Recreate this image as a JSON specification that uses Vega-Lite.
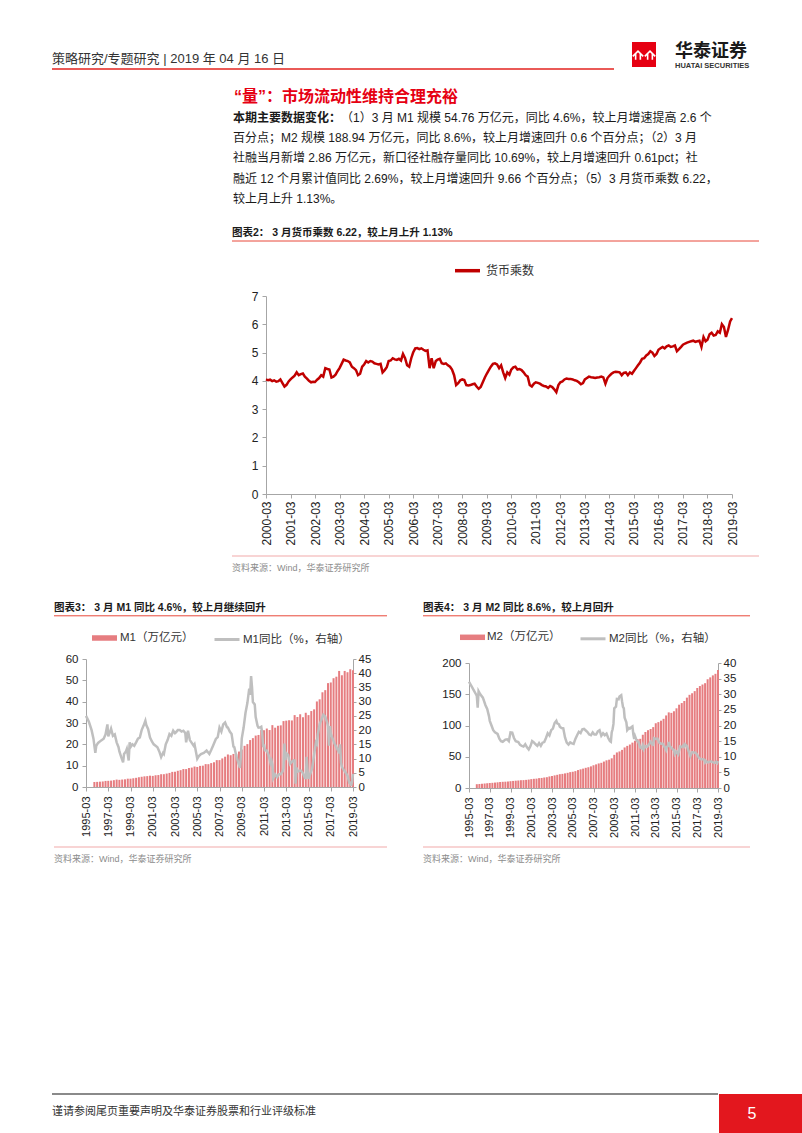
{
"$schema":"https://vega.github.io/schema/vega-lite/v6.json",
"background":"white","padding":0,"spacing":0,
"resolve":{"scale":{"fill":"independent","stroke":"independent"}},
"config":{"view":{"stroke":null},"font":"Liberation Sans, Noto Sans CJK SC","axis":{"grid":false}},
"vconcat":[
{"width":802,"height":40,"data":{"values":[{}]},"mark":"rule","encoding":{}},
{"hconcat":[
 {"width":50,"height":1,"data":{"values":[{}]},"mark":"rule","encoding":{}},
 {"vconcat":[
  {"width":562,"height":7,"data":{"values":[{}]},"mark":"rule","encoding":{}},
  {"width":562,"height":20,"data":{"values":[{"t":"策略研究/专题研究 | 2019 年 04 月 16 日"}]},
   "layer":[
    {"mark":{"type":"text","align":"left","baseline":"middle","fontSize":13,"color":"#333333"},"encoding":{"text":{"field":"t"},"x":{"datum":0,"type":"quantitative","scale":{"domain":[0,1]},"axis":null}}},
    {"mark":{"type":"rule","color":"#e3231f","strokeWidth":1.6},"encoding":{"y":{"datum":0,"type":"quantitative","scale":{"domain":[0,1]},"axis":null}}}]}
 ],"spacing":0},
 {"width":13,"height":1,"data":{"values":[{}]},"mark":"rule","encoding":{}},
 {"width":24,"height":25,"view":{"fill":"#e60012","stroke":null},"data":{"values":[{"k":"a"},{"k":"b"}]},
  "mark":{"type":"point","shape":"M-1,0.35L0,-0.65L1,0.35M-0.45,1L-0.45,-0.1M0.45,1L0.45,-0.1","filled":false,"stroke":"white","strokeWidth":1.6,"size":110,"opacity":1},
  "encoding":{"x":{"field":"k","type":"nominal","scale":{"type":"point","padding":0.5},"axis":null}}},
 {"width":15,"height":1,"data":{"values":[{}]},"mark":"rule","encoding":{}},
 {"width":90,"height":28,"data":{"values":[{"i":0,"t":"华泰证券"},{"i":1,"t":"HUATAI SECURITIES"}]},
  "encoding":{"y":{"field":"i","type":"ordinal","scale":{"type":"point","padding":0},"axis":null},"x":{"datum":0,"type":"quantitative","scale":{"domain":[0,1]},"axis":null},"text":{"field":"t"}},
  "layer":[
   {"transform":[{"filter":"datum.i==0"}],"mark":{"type":"text","align":"left","baseline":"top","fontSize":18,"fontWeight":"bold","color":"#1a1a1a","font":"Noto Sans CJK SC","dy":1}},
   {"transform":[{"filter":"datum.i==1"}],"mark":{"type":"text","align":"left","baseline":"bottom","fontSize":7.5,"fontWeight":"bold","color":"#333333","font":"Liberation Sans"}}]}
],"spacing":0},
{"hconcat":[
 {"width":230,"height":1,"data":{"values":[{}]},"mark":"rule","encoding":{}},
 {"vconcat":[
  {"width":527,"height":15.8,"data":{"values":[{}]},"mark":"rule","encoding":{}},
  {"width":527,"height":122.4,
   "data":{"values":[
    {"i":0,"k":"h","t":"“量”：市场流动性维持合理充裕"},
    {"i":1,"k":"b","t":"本期主要数据变化："},
    {"i":1,"k":"n1","t":"（1）3 月 M1 规模 54.76 万亿元，同比 4.6%，较上月增速提高 2.6 个"},
    {"i":2,"k":"n","t":"百分点；M2 规模 188.94 万亿元，同比 8.6%，较上月增速回升 0.6 个百分点；（2）3 月"},
    {"i":3,"k":"n","t":"社融当月新增 2.86 万亿元，新口径社融存量同比 10.69%，较上月增速回升 0.61pct；社"},
    {"i":4,"k":"n","t":"融近 12 个月累计值同比 2.69%，较上月增速回升 9.66 个百分点；（5）3 月货币乘数 6.22，"},
    {"i":5,"k":"n","t":"较上月上升 1.13%。"}]},
   "encoding":{"y":{"field":"i","type":"ordinal","scale":{"type":"point","padding":0.5},"axis":null},
     "x":{"datum":0,"type":"quantitative","scale":{"domain":[0,1]},"axis":null},
     "text":{"field":"t"}},
   "layer":[
    {"transform":[{"filter":"datum.k=='h'"}],"mark":{"type":"text","align":"left","baseline":"middle","fontSize":16,"fontWeight":"bold","color":"#e60012","dx":2}},
    {"transform":[{"filter":"datum.k=='b'"}],"mark":{"type":"text","align":"left","baseline":"middle","fontSize":12,"fontWeight":"bold","color":"#1a1a1a","dx":1}},
    {"transform":[{"filter":"datum.k=='n1'"}],"mark":{"type":"text","align":"left","baseline":"middle","fontSize":12,"color":"#1a1a1a","dx":109}},
    {"transform":[{"filter":"datum.k=='n'"}],"mark":{"type":"text","align":"left","baseline":"middle","fontSize":12,"color":"#1a1a1a","dx":1}}
   ]},
  {"width":527,"height":13.8,"data":{"values":[{}]},"mark":"rule","encoding":{}},
  {"width":527,"height":16,"data":{"values":[{"t":"图表2： 3 月货币乘数 6.22，较上月上升 1.13%"}]},
   "layer":[
    {"mark":{"type":"text","align":"left","baseline":"middle","fontSize":10.5,"fontWeight":"bold","color":"#1a1a1a"},"encoding":{"text":{"field":"t"},"x":{"datum":0,"type":"quantitative","scale":{"domain":[0,1]},"axis":null}}},
    {"mark":{"type":"rule","color":"#e8483a","strokeWidth":1},"encoding":{"y":{"datum":0,"type":"quantitative","scale":{"domain":[0,1]},"axis":null}}}]},
  {"width":527,"height":12.7,"data":{"values":[{}]},"mark":"rule","encoding":{}},
  {"hconcat":[
   {"width":18.3,"height":1,"data":{"values":[{}]},"mark":"rule","encoding":{}},
   {"width":466,"height":198,
    "data":{"values":[
{"d":"2000-03","v":4.05},{"d":"2000-04","v":4.02},{"d":"2000-05","v":4.04},{"d":"2000-06","v":3.99},{"d":"2000-07","v":4.02},{"d":"2000-08","v":3.97},{"d":"2000-09","v":3.99},{"d":"2000-10","v":4.05},{"d":"2000-11","v":3.92},{"d":"2000-12","v":3.80},
{"d":"2001-01","v":3.86},{"d":"2001-02","v":3.98},{"d":"2001-03","v":4.05},{"d":"2001-04","v":4.12},{"d":"2001-05","v":4.18},{"d":"2001-06","v":4.30},{"d":"2001-07","v":4.20},{"d":"2001-08","v":4.24},{"d":"2001-09","v":4.26},{"d":"2001-10","v":4.15},{"d":"2001-11","v":4.08},{"d":"2001-12","v":4.00},
{"d":"2002-01","v":3.95},{"d":"2002-02","v":3.97},{"d":"2002-03","v":3.96},{"d":"2002-04","v":4.04},{"d":"2002-05","v":4.10},{"d":"2002-06","v":4.20},{"d":"2002-07","v":4.15},{"d":"2002-08","v":4.45},{"d":"2002-09","v":4.42},{"d":"2002-10","v":4.40},{"d":"2002-11","v":4.12},{"d":"2002-12","v":4.15},
{"d":"2003-01","v":4.22},{"d":"2003-02","v":4.35},{"d":"2003-03","v":4.45},{"d":"2003-04","v":4.60},{"d":"2003-05","v":4.75},{"d":"2003-06","v":4.72},{"d":"2003-07","v":4.70},{"d":"2003-08","v":4.65},{"d":"2003-09","v":4.50},{"d":"2003-10","v":4.45},{"d":"2003-11","v":4.38},{"d":"2003-12","v":4.20},
{"d":"2004-01","v":4.25},{"d":"2004-02","v":4.50},{"d":"2004-03","v":4.58},{"d":"2004-04","v":4.70},{"d":"2004-05","v":4.65},{"d":"2004-06","v":4.70},{"d":"2004-07","v":4.68},{"d":"2004-08","v":4.62},{"d":"2004-09","v":4.60},{"d":"2004-10","v":4.58},{"d":"2004-11","v":4.60},{"d":"2004-12","v":4.30},
{"d":"2005-01","v":4.38},{"d":"2005-02","v":4.48},{"d":"2005-03","v":4.70},{"d":"2005-04","v":4.72},{"d":"2005-05","v":4.80},{"d":"2005-06","v":4.76},{"d":"2005-07","v":4.74},{"d":"2005-08","v":4.78},{"d":"2005-09","v":4.72},{"d":"2005-10","v":4.95},{"d":"2005-11","v":4.80},{"d":"2005-12","v":4.55},
{"d":"2006-01","v":4.50},{"d":"2006-02","v":4.80},{"d":"2006-03","v":5.00},{"d":"2006-04","v":5.15},{"d":"2006-05","v":5.16},{"d":"2006-06","v":5.12},{"d":"2006-07","v":5.15},{"d":"2006-08","v":5.10},{"d":"2006-09","v":5.06},{"d":"2006-10","v":5.08},{"d":"2006-11","v":4.45},{"d":"2006-12","v":4.80},
{"d":"2007-01","v":4.45},{"d":"2007-02","v":4.70},{"d":"2007-03","v":4.75},{"d":"2007-04","v":4.78},{"d":"2007-05","v":4.62},{"d":"2007-06","v":4.60},{"d":"2007-07","v":4.62},{"d":"2007-08","v":4.55},{"d":"2007-09","v":4.50},{"d":"2007-10","v":4.40},{"d":"2007-11","v":4.20},{"d":"2007-12","v":3.85},
{"d":"2008-01","v":3.92},{"d":"2008-02","v":4.02},{"d":"2008-03","v":4.05},{"d":"2008-04","v":4.03},{"d":"2008-05","v":3.85},{"d":"2008-06","v":3.84},{"d":"2008-07","v":3.85},{"d":"2008-08","v":3.88},{"d":"2008-09","v":3.90},{"d":"2008-10","v":3.80},{"d":"2008-11","v":3.72},{"d":"2008-12","v":3.78},
{"d":"2009-01","v":3.95},{"d":"2009-02","v":4.12},{"d":"2009-03","v":4.25},{"d":"2009-04","v":4.38},{"d":"2009-05","v":4.50},{"d":"2009-06","v":4.60},{"d":"2009-07","v":4.62},{"d":"2009-08","v":4.58},{"d":"2009-09","v":4.45},{"d":"2009-10","v":4.55},{"d":"2009-11","v":4.30},{"d":"2009-12","v":4.10},
{"d":"2010-01","v":4.30},{"d":"2010-02","v":4.22},{"d":"2010-03","v":4.40},{"d":"2010-04","v":4.48},{"d":"2010-05","v":4.50},{"d":"2010-06","v":4.40},{"d":"2010-07","v":4.42},{"d":"2010-08","v":4.38},{"d":"2010-09","v":4.30},{"d":"2010-10","v":4.20},{"d":"2010-11","v":4.15},{"d":"2010-12","v":3.85},
{"d":"2011-01","v":3.80},{"d":"2011-02","v":3.90},{"d":"2011-03","v":3.95},{"d":"2011-04","v":3.93},{"d":"2011-05","v":3.90},{"d":"2011-06","v":3.85},{"d":"2011-07","v":3.82},{"d":"2011-08","v":3.80},{"d":"2011-09","v":3.75},{"d":"2011-10","v":3.82},{"d":"2011-11","v":3.78},{"d":"2011-12","v":3.70},
{"d":"2012-01","v":3.60},{"d":"2012-02","v":3.85},{"d":"2012-03","v":3.95},{"d":"2012-04","v":3.98},{"d":"2012-05","v":4.05},{"d":"2012-06","v":4.08},{"d":"2012-07","v":4.07},{"d":"2012-08","v":4.07},{"d":"2012-09","v":4.05},{"d":"2012-10","v":4.02},{"d":"2012-11","v":4.00},{"d":"2012-12","v":3.95},
{"d":"2013-01","v":3.88},{"d":"2013-02","v":3.92},{"d":"2013-03","v":4.05},{"d":"2013-04","v":4.10},{"d":"2013-05","v":4.15},{"d":"2013-06","v":4.13},{"d":"2013-07","v":4.12},{"d":"2013-08","v":4.10},{"d":"2013-09","v":4.12},{"d":"2013-10","v":4.13},{"d":"2013-11","v":4.15},{"d":"2013-12","v":4.12},
{"d":"2014-01","v":3.90},{"d":"2014-02","v":4.10},{"d":"2014-03","v":4.18},{"d":"2014-04","v":4.25},{"d":"2014-05","v":4.30},{"d":"2014-06","v":4.32},{"d":"2014-07","v":4.31},{"d":"2014-08","v":4.30},{"d":"2014-09","v":4.20},{"d":"2014-10","v":4.28},{"d":"2014-11","v":4.30},{"d":"2014-12","v":4.20},
{"d":"2015-01","v":4.30},{"d":"2015-02","v":4.25},{"d":"2015-03","v":4.35},{"d":"2015-04","v":4.45},{"d":"2015-05","v":4.55},{"d":"2015-06","v":4.65},{"d":"2015-07","v":4.78},{"d":"2015-08","v":4.80},{"d":"2015-09","v":4.90},{"d":"2015-10","v":4.95},{"d":"2015-11","v":5.05},{"d":"2015-12","v":5.00},
{"d":"2016-01","v":4.88},{"d":"2016-02","v":4.95},{"d":"2016-03","v":5.10},{"d":"2016-04","v":5.15},{"d":"2016-05","v":5.20},{"d":"2016-06","v":5.15},{"d":"2016-07","v":5.22},{"d":"2016-08","v":5.25},{"d":"2016-09","v":5.20},{"d":"2016-10","v":5.22},{"d":"2016-11","v":5.25},{"d":"2016-12","v":5.05},
{"d":"2017-01","v":5.12},{"d":"2017-02","v":5.20},{"d":"2017-03","v":5.28},{"d":"2017-04","v":5.32},{"d":"2017-05","v":5.35},{"d":"2017-06","v":5.38},{"d":"2017-07","v":5.40},{"d":"2017-08","v":5.42},{"d":"2017-09","v":5.38},{"d":"2017-10","v":5.40},{"d":"2017-11","v":5.42},{"d":"2017-12","v":5.20},
{"d":"2018-01","v":5.55},{"d":"2018-02","v":5.40},{"d":"2018-03","v":5.45},{"d":"2018-04","v":5.65},{"d":"2018-05","v":5.70},{"d":"2018-06","v":5.60},{"d":"2018-07","v":5.62},{"d":"2018-08","v":5.75},{"d":"2018-09","v":5.70},{"d":"2018-10","v":6.00},{"d":"2018-11","v":5.90},{"d":"2018-12","v":5.55},
{"d":"2019-01","v":5.80},{"d":"2019-02","v":6.10},{"d":"2019-03","v":6.22}]},
    "mark":{"type":"line","strokeWidth":2.5},
    "encoding":{
     "x":{"field":"d","type":"temporal","scale":{"type":"utc","nice":false},
      "axis":{"title":null,"format":"%Y-%m","labelAngle":270,"labelFontSize":12,"labelColor":"#222222","labelFont":"Liberation Sans","labelPadding":3,"tickSize":4,"tickColor":"#a6a6a6","domainColor":"#a6a6a6","labelFlush":false,"labelOverlap":false,"labelBound":false,
       "values":[{"year":2000,"month":3,"date":1,"utc":true},{"year":2001,"month":3,"date":1,"utc":true},{"year":2002,"month":3,"date":1,"utc":true},{"year":2003,"month":3,"date":1,"utc":true},{"year":2004,"month":3,"date":1,"utc":true},{"year":2005,"month":3,"date":1,"utc":true},{"year":2006,"month":3,"date":1,"utc":true},{"year":2007,"month":3,"date":1,"utc":true},{"year":2008,"month":3,"date":1,"utc":true},{"year":2009,"month":3,"date":1,"utc":true},{"year":2010,"month":3,"date":1,"utc":true},{"year":2011,"month":3,"date":1,"utc":true},{"year":2012,"month":3,"date":1,"utc":true},{"year":2013,"month":3,"date":1,"utc":true},{"year":2014,"month":3,"date":1,"utc":true},{"year":2015,"month":3,"date":1,"utc":true},{"year":2016,"month":3,"date":1,"utc":true},{"year":2017,"month":3,"date":1,"utc":true},{"year":2018,"month":3,"date":1,"utc":true},{"year":2019,"month":3,"date":1,"utc":true}]}},
     "y":{"field":"v","type":"quantitative","scale":{"domain":[0,7],"nice":false},
      "axis":{"title":null,"values":[0,1,2,3,4,5,6,7],"labelFontSize":12,"labelColor":"#222222","labelFont":"Liberation Sans","tickSize":4,"labelPadding":4,"tickColor":"#a6a6a6","domainColor":"#a6a6a6"}},
     "stroke":{"datum":"货币乘数","type":"nominal","scale":{"range":["#c00000"]},
      "legend":{"orient":"none","legendX":187,"legendY":-39.8,"title":null,"symbolType":"stroke","symbolSize":625,"symbolStrokeWidth":3.5,"labelFontSize":12,"labelColor":"#333333","labelOffset":4,"padding":0}}
    }}
  ],"spacing":0,"resolve":{"scale":{"fill":"independent","stroke":"independent"}}},
  {"width":527,"height":7.4,"data":{"values":[{}]},"mark":"rule","encoding":{}},
  {"width":527,"height":24,"data":{"values":[{"t":"资料来源：Wind，华泰证券研究所"}]},
   "layer":[
    {"mark":{"type":"text","align":"left","baseline":"middle","fontSize":9,"color":"#8c8c8c"},"encoding":{"text":{"field":"t"},"x":{"datum":0,"type":"quantitative","scale":{"domain":[0,1]},"axis":null}}},
    {"mark":{"type":"rule","color":"#f2a9a9","strokeWidth":1.2},"encoding":{"y":{"datum":1,"type":"quantitative","scale":{"domain":[0,1]},"axis":null}}}]}
 ],"spacing":0,"resolve":{"scale":{"fill":"independent","stroke":"independent"}}}
],"spacing":0,"resolve":{"scale":{"fill":"independent","stroke":"independent"}}},
{"width":1,"height":18.9,"data":{"values":[{}]},"mark":"rule","encoding":{}},
{"hconcat":[
 {"width":52,"height":1,"data":{"values":[{}]},"mark":"rule","encoding":{}},
 {"vconcat":[
  {"width":333,"height":14.8,"data":{"values":[{"t":"图表3： 3 月 M1 同比 4.6%，较上月继续回升"}]},
   "layer":[
    {"mark":{"type":"text","align":"left","baseline":"middle","fontSize":10.5,"fontWeight":"bold","color":"#1a1a1a"},"encoding":{"text":{"field":"t"},"x":{"datum":0,"type":"quantitative","scale":{"domain":[0,1]},"axis":null}}},
    {"mark":{"type":"rule","color":"#e8483a","strokeWidth":1},"encoding":{"y":{"datum":0,"type":"quantitative","scale":{"domain":[0,1]},"axis":null}}}]},
  {"width":333,"height":6.3,"data":{"values":[{}]},"mark":"rule","encoding":{}},
  {"hconcat":[
   {"width":10.2,"height":1,"data":{"values":[{}]},"mark":"rule","encoding":{}},
   {"width":267,"height":128,
    "encoding":{"x":{"field":"d","type":"temporal","scale":{"type":"utc","nice":false,"padding":0},
     "axis":{"title":null,"format":"%Y-%m","labelAngle":270,"labelFontSize":11,"labelColor":"#222222","labelFont":"Liberation Sans","labelPadding":5,"tickSize":4,"tickColor":"#a6a6a6","domainColor":"#a6a6a6","labelFlush":false,"labelOverlap":false,"labelBound":false,
      "values":[{"year":1995,"month":3,"date":1,"utc":true},{"year":1997,"month":3,"date":1,"utc":true},{"year":1999,"month":3,"date":1,"utc":true},{"year":2001,"month":3,"date":1,"utc":true},{"year":2003,"month":3,"date":1,"utc":true},{"year":2005,"month":3,"date":1,"utc":true},{"year":2007,"month":3,"date":1,"utc":true},{"year":2009,"month":3,"date":1,"utc":true},{"year":2011,"month":3,"date":1,"utc":true},{"year":2013,"month":3,"date":1,"utc":true},{"year":2015,"month":3,"date":1,"utc":true},{"year":2017,"month":3,"date":1,"utc":true},{"year":2019,"month":3,"date":1,"utc":true}]}}},
    "layer":[
     {"data":{"values":[{"d":"1995-12","v":2.35},{"d":"1996-03","v":2.4},{"d":"1996-06","v":2.5},{"d":"1996-09","v":2.6},{"d":"1996-12","v":2.85},{"d":"1997-03","v":2.9},{"d":"1997-06","v":3.0},{"d":"1997-09","v":3.2},{"d":"1997-12","v":3.48},{"d":"1998-03","v":3.35},{"d":"1998-06","v":3.5},{"d":"1998-09","v":3.6},{"d":"1998-12","v":3.9},{"d":"1999-03","v":3.9},{"d":"1999-06","v":4.1},{"d":"1999-09","v":4.3},{"d":"1999-12","v":4.58},{"d":"2000-03","v":4.8},{"d":"2000-06","v":5.0},{"d":"2000-09","v":5.1},{"d":"2000-12","v":5.31},{"d":"2001-03","v":5.2},{"d":"2001-06","v":5.5},{"d":"2001-09","v":5.6},{"d":"2001-12","v":5.99},{"d":"2002-03","v":6.0},{"d":"2002-06","v":6.3},{"d":"2002-09","v":6.6},{"d":"2002-12","v":7.09},{"d":"2003-03","v":7.1},{"d":"2003-06","v":7.6},{"d":"2003-09","v":7.9},{"d":"2003-12","v":8.41},{"d":"2004-03","v":8.4},{"d":"2004-06","v":8.9},{"d":"2004-09","v":9.1},{"d":"2004-12","v":9.6},{"d":"2005-03","v":9.4},{"d":"2005-06","v":9.9},{"d":"2005-09","v":10.0},{"d":"2005-12","v":10.73},{"d":"2006-03","v":10.7},{"d":"2006-06","v":11.2},{"d":"2006-09","v":11.6},{"d":"2006-12","v":12.6},{"d":"2007-03","v":12.6},{"d":"2007-06","v":13.4},{"d":"2007-09","v":14.2},{"d":"2007-12","v":15.25},{"d":"2008-03","v":14.9},{"d":"2008-06","v":15.5},{"d":"2008-09","v":15.6},{"d":"2008-12","v":16.62},{"d":"2009-03","v":17.6},{"d":"2009-06","v":19.3},{"d":"2009-09","v":20.1},{"d":"2009-12","v":22.0},{"d":"2010-03","v":22.9},{"d":"2010-06","v":24.1},{"d":"2010-09","v":24.4},{"d":"2010-12","v":26.7},{"d":"2011-03","v":26.6},{"d":"2011-06","v":27.4},{"d":"2011-09","v":26.7},{"d":"2011-12","v":29.0},{"d":"2012-03","v":27.8},{"d":"2012-06","v":28.7},{"d":"2012-09","v":28.9},{"d":"2012-12","v":30.9},{"d":"2013-03","v":31.1},{"d":"2013-06","v":31.3},{"d":"2013-09","v":31.2},{"d":"2013-12","v":33.7},{"d":"2014-03","v":32.8},{"d":"2014-06","v":34.1},{"d":"2014-09","v":32.7},{"d":"2014-12","v":34.8},{"d":"2015-03","v":33.7},{"d":"2015-06","v":35.6},{"d":"2015-09","v":36.4},{"d":"2015-12","v":40.1},{"d":"2016-03","v":41.1},{"d":"2016-06","v":44.4},{"d":"2016-09","v":45.4},{"d":"2016-12","v":48.7},{"d":"2017-03","v":49.0},{"d":"2017-06","v":51.0},{"d":"2017-09","v":51.7},{"d":"2017-12","v":54.4},{"d":"2018-03","v":52.4},{"d":"2018-06","v":54.4},{"d":"2018-09","v":53.8},{"d":"2018-12","v":55.2},{"d":"2019-03","v":54.76}]},
      "mark":{"type":"bar","width":2},
      "encoding":{"y":{"field":"v","type":"quantitative","scale":{"domain":[0,60],"nice":false},
        "axis":{"title":null,"values":[0,10,20,30,40,50,60],"labelFontSize":11.5,"labelColor":"#222222","labelFont":"Liberation Sans","tickSize":4,"labelPadding":4,"tickColor":"#a6a6a6","domainColor":"#a6a6a6"}},
       "fill":{"datum":"M1（万亿元）","type":"nominal","scale":{"range":["#e67d80"]},
        "legend":{"orient":"none","legendX":6,"legendY":-33.5,"title":null,"symbolType":"M-1,-0.22L1,-0.22L1,0.22L-1,0.22Z","symbolSize":625,"symbolStrokeWidth":0,"labelFontSize":11.5,"labelColor":"#333333","labelOffset":3,"padding":0,"encode":{"symbols":{"update":{"fill":{"value":"#c00000"}}}}}}}},
     {"data":{"values":[{"d":"1995-03","v":25.0},{"d":"1995-06","v":23.0},{"d":"1995-09","v":20.0},{"d":"1995-11","v":17.0},{"d":"1996-01","v":12.0},{"d":"1996-02","v":14.5},{"d":"1996-04","v":15.5},{"d":"1996-07","v":16.3},{"d":"1996-10","v":17.0},{"d":"1996-12","v":18.5},{"d":"1997-02","v":22.0},{"d":"1997-03","v":17.8},{"d":"1997-05","v":19.5},{"d":"1997-06","v":20.5},{"d":"1997-08","v":18.0},{"d":"1997-10","v":18.5},{"d":"1997-12","v":15.7},{"d":"1998-02","v":14.0},{"d":"1998-03","v":12.5},{"d":"1998-05","v":10.5},{"d":"1998-07","v":8.7},{"d":"1998-08","v":11.6},{"d":"1998-10","v":12.5},{"d":"1998-11","v":13.4},{"d":"1999-01","v":9.3},{"d":"1999-02","v":15.7},{"d":"1999-03","v":14.0},{"d":"1999-05","v":15.0},{"d":"1999-07","v":14.5},{"d":"1999-09","v":15.7},{"d":"1999-11","v":17.0},{"d":"2000-01","v":17.4},{"d":"2000-03","v":20.0},{"d":"2000-05","v":21.5},{"d":"2000-07","v":23.3},{"d":"2000-08","v":21.8},{"d":"2000-10","v":20.3},{"d":"2000-12","v":17.4},{"d":"2001-02","v":16.0},{"d":"2001-04","v":15.0},{"d":"2001-06","v":14.5},{"d":"2001-08","v":14.0},{"d":"2001-10","v":12.5},{"d":"2001-12","v":10.5},{"d":"2002-02","v":12.0},{"d":"2002-03","v":11.6},{"d":"2002-05","v":15.0},{"d":"2002-07","v":16.5},{"d":"2002-09","v":18.6},{"d":"2002-11","v":18.0},{"d":"2003-01","v":19.8},{"d":"2003-03","v":18.9},{"d":"2003-04","v":19.2},{"d":"2003-06","v":20.0},{"d":"2003-08","v":20.0},{"d":"2003-10","v":19.5},{"d":"2003-12","v":19.8},{"d":"2004-02","v":19.0},{"d":"2004-03","v":15.7},{"d":"2004-05","v":19.8},{"d":"2004-07","v":16.5},{"d":"2004-09","v":15.5},{"d":"2004-11","v":14.5},{"d":"2004-12","v":15.0},{"d":"2005-02","v":11.5},{"d":"2005-03","v":9.9},{"d":"2005-05","v":11.0},{"d":"2005-07","v":11.6},{"d":"2005-10","v":12.0},{"d":"2006-01","v":12.8},{"d":"2006-04","v":11.6},{"d":"2006-06","v":13.0},{"d":"2006-08","v":14.5},{"d":"2006-11","v":16.9},{"d":"2007-01","v":17.5},{"d":"2007-03","v":20.9},{"d":"2007-05","v":19.5},{"d":"2007-07","v":22.0},{"d":"2007-09","v":22.7},{"d":"2007-11","v":21.0},{"d":"2007-12","v":20.9},{"d":"2008-02","v":19.5},{"d":"2008-04","v":18.6},{"d":"2008-06","v":14.2},{"d":"2008-07","v":14.0},{"d":"2008-09","v":11.0},{"d":"2008-11","v":8.7},{"d":"2009-01","v":6.7},{"d":"2009-02","v":10.9},{"d":"2009-03","v":17.0},{"d":"2009-05","v":20.9},{"d":"2009-07","v":26.0},{"d":"2009-09","v":29.5},{"d":"2009-11","v":34.6},{"d":"2009-12","v":32.4},{"d":"2010-01","v":39.0},{"d":"2010-02","v":35.0},{"d":"2010-03","v":29.9},{"d":"2010-05","v":29.0},{"d":"2010-06","v":24.6},{"d":"2010-08","v":21.5},{"d":"2010-09","v":20.9},{"d":"2010-11","v":21.0},{"d":"2010-12","v":21.2},{"d":"2011-01","v":19.0},{"d":"2011-02","v":14.0},{"d":"2011-03","v":15.0},{"d":"2011-04","v":12.9},{"d":"2011-06","v":12.8},{"d":"2011-08","v":11.2},{"d":"2011-10","v":8.4},{"d":"2011-11","v":9.3},{"d":"2011-12","v":7.9},{"d":"2012-01","v":3.1},{"d":"2012-03","v":4.4},{"d":"2012-05","v":3.5},{"d":"2012-07","v":4.5},{"d":"2012-09","v":4.5},{"d":"2012-11","v":5.5},{"d":"2012-12","v":6.5},{"d":"2013-01","v":15.3},{"d":"2013-02","v":9.5},{"d":"2013-03","v":11.9},{"d":"2013-05","v":11.3},{"d":"2013-07","v":8.1},{"d":"2013-09","v":8.9},{"d":"2013-11","v":9.4},{"d":"2013-12","v":9.3},{"d":"2014-01","v":1.2},{"d":"2014-02","v":6.9},{"d":"2014-03","v":5.4},{"d":"2014-05","v":5.7},{"d":"2014-07","v":5.7},{"d":"2014-09","v":4.8},{"d":"2014-11","v":3.2},{"d":"2014-12","v":3.2},{"d":"2015-01","v":10.6},{"d":"2015-02","v":5.6},{"d":"2015-03","v":2.9},{"d":"2015-05","v":4.7},{"d":"2015-07","v":6.6},{"d":"2015-09","v":11.4},{"d":"2015-11","v":15.7},{"d":"2015-12","v":15.2},{"d":"2016-01","v":18.6},{"d":"2016-03","v":22.1},{"d":"2016-05","v":23.7},{"d":"2016-07","v":25.4},{"d":"2016-09","v":24.7},{"d":"2016-11","v":22.7},{"d":"2016-12","v":21.4},{"d":"2017-01","v":14.5},{"d":"2017-02","v":21.4},{"d":"2017-03","v":18.8},{"d":"2017-05","v":17.0},{"d":"2017-07","v":15.3},{"d":"2017-09","v":14.0},{"d":"2017-11","v":12.7},{"d":"2017-12","v":11.8},{"d":"2018-01","v":15.0},{"d":"2018-02","v":8.5},{"d":"2018-03","v":7.1},{"d":"2018-05","v":6.0},{"d":"2018-07","v":5.1},{"d":"2018-09","v":4.0},{"d":"2018-11","v":1.5},{"d":"2018-12","v":1.5},{"d":"2019-01","v":0.4},{"d":"2019-02","v":2.0},{"d":"2019-03","v":4.6}]},
      "mark":{"type":"line","strokeWidth":2.5},
      "encoding":{"y":{"field":"v","type":"quantitative","scale":{"domain":[0,45],"nice":false},
        "axis":{"title":null,"orient":"right","values":[0,5,10,15,20,25,30,35,40,45],"labelFontSize":11.5,"labelColor":"#222222","labelFont":"Liberation Sans","tickSize":3,"labelPadding":2,"tickColor":"#a6a6a6","domainColor":"#a6a6a6"}},
       "stroke":{"datum":"M1同比（%，右轴）","type":"nominal","scale":{"range":["#bfbfbf"]},
        "legend":{"orient":"none","legendX":127,"legendY":-33.5,"title":null,"symbolType":"stroke","symbolSize":625,"symbolStrokeWidth":3,"labelFontSize":11.5,"labelColor":"#333333","labelOffset":2,"padding":0}}}}
    ],
    "resolve":{"scale":{"y":"independent"}}}
  ],"spacing":0,"resolve":{"scale":{"fill":"independent","stroke":"independent"}}},
  {"width":333,"height":8.0,"data":{"values":[{}]},"mark":"rule","encoding":{}},
  {"width":333,"height":24,"data":{"values":[{"t":"资料来源：Wind，华泰证券研究所"}]},
   "layer":[
    {"mark":{"type":"text","align":"left","baseline":"middle","fontSize":9,"color":"#8c8c8c"},"encoding":{"text":{"field":"t"},"x":{"datum":0,"type":"quantitative","scale":{"domain":[0,1]},"axis":null}}},
    {"mark":{"type":"rule","color":"#f2a9a9","strokeWidth":1.2},"encoding":{"y":{"datum":1,"type":"quantitative","scale":{"domain":[0,1]},"axis":null}}}]}
 ],"spacing":0,"resolve":{"scale":{"fill":"independent","stroke":"independent"}}},
 {"width":33,"height":1,"data":{"values":[{}]},"mark":"rule","encoding":{}},
 {"vconcat":[
  {"width":327,"height":14.8,"data":{"values":[{"t":"图表4： 3 月 M2 同比 8.6%，较上月回升"}]},
   "layer":[
    {"mark":{"type":"text","align":"left","baseline":"middle","fontSize":10.5,"fontWeight":"bold","color":"#1a1a1a"},"encoding":{"text":{"field":"t"},"x":{"datum":0,"type":"quantitative","scale":{"domain":[0,1]},"axis":null}}},
    {"mark":{"type":"rule","color":"#e8483a","strokeWidth":1},"encoding":{"y":{"datum":0,"type":"quantitative","scale":{"domain":[0,1]},"axis":null}}}]},
  {"width":327,"height":5.6,"data":{"values":[{}]},"mark":"rule","encoding":{}},
  {"hconcat":[
   {"width":17.8,"height":1,"data":{"values":[{}]},"mark":"rule","encoding":{}},
   {"width":249,"height":125,
    "encoding":{"x":{"field":"d","type":"temporal","scale":{"type":"utc","nice":false,"padding":0},
     "axis":{"title":null,"format":"%Y-%m","labelAngle":270,"labelFontSize":11,"labelColor":"#222222","labelFont":"Liberation Sans","labelPadding":5,"tickSize":4,"tickColor":"#a6a6a6","domainColor":"#a6a6a6","labelFlush":false,"labelOverlap":false,"labelBound":false,
      "values":[{"year":1995,"month":3,"date":1,"utc":true},{"year":1997,"month":3,"date":1,"utc":true},{"year":1999,"month":3,"date":1,"utc":true},{"year":2001,"month":3,"date":1,"utc":true},{"year":2003,"month":3,"date":1,"utc":true},{"year":2005,"month":3,"date":1,"utc":true},{"year":2007,"month":3,"date":1,"utc":true},{"year":2009,"month":3,"date":1,"utc":true},{"year":2011,"month":3,"date":1,"utc":true},{"year":2013,"month":3,"date":1,"utc":true},{"year":2015,"month":3,"date":1,"utc":true},{"year":2017,"month":3,"date":1,"utc":true},{"year":2019,"month":3,"date":1,"utc":true}]}}},
    "layer":[
     {"data":{"values":[{"d":"1995-12","v":6.08},{"d":"1996-03","v":6.4},{"d":"1996-06","v":6.8},{"d":"1996-09","v":7.2},{"d":"1996-12","v":7.6},{"d":"1997-03","v":8.0},{"d":"1997-06","v":8.3},{"d":"1997-09","v":8.7},{"d":"1997-12","v":9.1},{"d":"1998-03","v":9.5},{"d":"1998-06","v":9.9},{"d":"1998-09","v":10.1},{"d":"1998-12","v":10.4},{"d":"1999-03","v":10.9},{"d":"1999-06","v":11.3},{"d":"1999-09","v":11.7},{"d":"1999-12","v":12.0},{"d":"2000-03","v":12.5},{"d":"2000-06","v":12.6},{"d":"2000-09","v":13.0},{"d":"2000-12","v":13.5},{"d":"2001-03","v":14.2},{"d":"2001-06","v":14.7},{"d":"2001-09","v":15.0},{"d":"2001-12","v":15.8},{"d":"2002-03","v":16.1},{"d":"2002-06","v":16.8},{"d":"2002-09","v":17.3},{"d":"2002-12","v":18.5},{"d":"2003-03","v":19.4},{"d":"2003-06","v":20.2},{"d":"2003-09","v":21.1},{"d":"2003-12","v":22.1},{"d":"2004-03","v":22.6},{"d":"2004-06","v":23.4},{"d":"2004-09","v":24.3},{"d":"2004-12","v":25.4},{"d":"2005-03","v":26.0},{"d":"2005-06","v":27.0},{"d":"2005-09","v":28.7},{"d":"2005-12","v":29.9},{"d":"2006-03","v":31.0},{"d":"2006-06","v":32.3},{"d":"2006-09","v":33.2},{"d":"2006-12","v":34.6},{"d":"2007-03","v":36.4},{"d":"2007-06","v":37.8},{"d":"2007-09","v":39.3},{"d":"2007-12","v":40.3},{"d":"2008-03","v":42.3},{"d":"2008-06","v":44.3},{"d":"2008-09","v":45.3},{"d":"2008-12","v":47.5},{"d":"2009-03","v":53.1},{"d":"2009-06","v":56.9},{"d":"2009-09","v":58.5},{"d":"2009-12","v":61.0},{"d":"2010-03","v":64.9},{"d":"2010-06","v":67.4},{"d":"2010-09","v":69.6},{"d":"2010-12","v":72.6},{"d":"2011-03","v":75.8},{"d":"2011-06","v":78.1},{"d":"2011-09","v":78.7},{"d":"2011-12","v":85.2},{"d":"2012-03","v":89.6},{"d":"2012-06","v":92.5},{"d":"2012-09","v":94.4},{"d":"2012-12","v":97.4},{"d":"2013-03","v":103.6},{"d":"2013-06","v":105.4},{"d":"2013-09","v":107.7},{"d":"2013-12","v":110.7},{"d":"2014-03","v":116.1},{"d":"2014-06","v":121.0},{"d":"2014-09","v":120.2},{"d":"2014-12","v":122.8},{"d":"2015-03","v":127.5},{"d":"2015-06","v":133.3},{"d":"2015-09","v":135.9},{"d":"2015-12","v":139.2},{"d":"2016-03","v":144.6},{"d":"2016-06","v":149.1},{"d":"2016-09","v":151.6},{"d":"2016-12","v":155.0},{"d":"2017-03","v":160.0},{"d":"2017-06","v":163.1},{"d":"2017-09","v":165.6},{"d":"2017-12","v":167.7},{"d":"2018-03","v":174.0},{"d":"2018-06","v":177.0},{"d":"2018-09","v":180.2},{"d":"2018-12","v":182.7},{"d":"2019-03","v":188.94}]},
      "mark":{"type":"bar","width":2},
      "encoding":{"y":{"field":"v","type":"quantitative","scale":{"domain":[0,200],"nice":false},
        "axis":{"title":null,"values":[0,50,100,150,200],"labelFontSize":11.5,"labelColor":"#222222","labelFont":"Liberation Sans","tickSize":4,"labelPadding":4,"tickColor":"#a6a6a6","domainColor":"#a6a6a6"}},
       "fill":{"datum":"M2（万亿元）","type":"nominal","scale":{"range":["#e67d80"]},
        "legend":{"orient":"none","legendX":-9,"legendY":-38.2,"title":null,"symbolType":"M-1,-0.22L1,-0.22L1,0.22L-1,0.22Z","symbolSize":625,"symbolStrokeWidth":0,"labelFontSize":11.5,"labelColor":"#333333","labelOffset":2,"padding":0,"encode":{"symbols":{"update":{"fill":{"value":"#c00000"}}}}}}}},
     {"data":{"values":[{"d":"1995-03","v":34.0},{"d":"1995-06","v":32.5},{"d":"1995-09","v":31.0},{"d":"1995-11","v":30.0},{"d":"1995-12","v":29.5},{"d":"1996-01","v":25.7},{"d":"1996-02","v":31.0},{"d":"1996-04","v":30.0},{"d":"1996-07","v":28.9},{"d":"1996-10","v":26.5},{"d":"1996-12","v":25.3},{"d":"1997-02","v":23.0},{"d":"1997-03","v":21.5},{"d":"1997-05","v":20.0},{"d":"1997-07","v":18.5},{"d":"1997-09","v":17.8},{"d":"1997-12","v":17.3},{"d":"1998-02","v":15.8},{"d":"1998-04","v":15.0},{"d":"1998-06","v":14.8},{"d":"1998-09","v":15.5},{"d":"1998-11","v":15.6},{"d":"1998-12","v":15.3},{"d":"1999-01","v":15.0},{"d":"1999-03","v":17.8},{"d":"1999-05","v":17.7},{"d":"1999-07","v":16.0},{"d":"1999-09","v":15.0},{"d":"1999-12","v":14.7},{"d":"2000-02","v":13.8},{"d":"2000-04","v":13.5},{"d":"2000-06","v":13.3},{"d":"2000-08","v":14.0},{"d":"2000-10","v":13.0},{"d":"2000-12","v":12.3},{"d":"2001-02","v":13.4},{"d":"2001-04","v":15.0},{"d":"2001-06","v":14.6},{"d":"2001-08","v":14.0},{"d":"2001-10","v":13.5},{"d":"2001-12","v":14.4},{"d":"2002-02","v":13.5},{"d":"2002-04","v":14.5},{"d":"2002-06","v":14.7},{"d":"2002-08","v":16.0},{"d":"2002-10","v":17.5},{"d":"2002-12","v":16.8},{"d":"2003-02","v":18.5},{"d":"2003-04","v":19.0},{"d":"2003-06","v":20.8},{"d":"2003-08","v":21.5},{"d":"2003-09","v":20.7},{"d":"2003-11","v":20.4},{"d":"2003-12","v":19.6},{"d":"2004-02","v":19.2},{"d":"2004-04","v":19.1},{"d":"2004-06","v":16.2},{"d":"2004-08","v":14.5},{"d":"2004-10","v":13.9},{"d":"2004-12","v":14.6},{"d":"2005-02","v":14.3},{"d":"2005-04","v":14.1},{"d":"2005-06","v":15.7},{"d":"2005-08","v":16.9},{"d":"2005-10","v":18.0},{"d":"2005-12","v":17.6},{"d":"2006-02","v":18.8},{"d":"2006-04","v":18.9},{"d":"2006-06","v":18.4},{"d":"2006-08","v":17.9},{"d":"2006-10","v":17.1},{"d":"2006-12","v":16.9},{"d":"2007-02","v":17.8},{"d":"2007-04","v":17.1},{"d":"2007-06","v":17.1},{"d":"2007-08","v":18.1},{"d":"2007-10","v":18.5},{"d":"2007-12","v":16.7},{"d":"2008-02","v":17.5},{"d":"2008-04","v":16.9},{"d":"2008-06","v":17.4},{"d":"2008-08","v":16.0},{"d":"2008-10","v":15.0},{"d":"2008-11","v":14.8},{"d":"2008-12","v":17.8},{"d":"2009-01","v":18.8},{"d":"2009-02","v":20.5},{"d":"2009-03","v":25.5},{"d":"2009-05","v":26.0},{"d":"2009-06","v":28.5},{"d":"2009-08","v":28.4},{"d":"2009-09","v":29.3},{"d":"2009-11","v":29.7},{"d":"2009-12","v":27.7},{"d":"2010-01","v":26.0},{"d":"2010-02","v":25.5},{"d":"2010-03","v":22.5},{"d":"2010-05","v":21.0},{"d":"2010-06","v":18.5},{"d":"2010-08","v":19.2},{"d":"2010-09","v":19.0},{"d":"2010-11","v":19.5},{"d":"2010-12","v":19.7},{"d":"2011-01","v":17.2},{"d":"2011-02","v":15.7},{"d":"2011-03","v":16.6},{"d":"2011-05","v":15.1},{"d":"2011-07","v":14.7},{"d":"2011-09","v":13.0},{"d":"2011-11","v":12.7},{"d":"2011-12","v":13.6},{"d":"2012-01","v":12.4},{"d":"2012-03","v":13.4},{"d":"2012-05","v":13.2},{"d":"2012-07","v":13.9},{"d":"2012-09","v":14.8},{"d":"2012-11","v":13.9},{"d":"2012-12","v":13.8},{"d":"2013-01","v":15.9},{"d":"2013-03","v":15.7},{"d":"2013-05","v":15.8},{"d":"2013-07","v":14.5},{"d":"2013-09","v":14.2},{"d":"2013-11","v":14.2},{"d":"2013-12","v":13.6},{"d":"2014-01","v":13.2},{"d":"2014-03","v":12.1},{"d":"2014-04","v":13.2},{"d":"2014-05","v":13.4},{"d":"2014-06","v":14.7},{"d":"2014-07","v":13.5},{"d":"2014-09","v":12.9},{"d":"2014-11","v":12.3},{"d":"2014-12","v":12.2},{"d":"2015-01","v":10.8},{"d":"2015-03","v":11.6},{"d":"2015-05","v":10.8},{"d":"2015-07","v":13.3},{"d":"2015-09","v":13.1},{"d":"2015-11","v":13.7},{"d":"2015-12","v":13.3},{"d":"2016-01","v":14.0},{"d":"2016-03","v":13.4},{"d":"2016-05","v":11.8},{"d":"2016-07","v":10.2},{"d":"2016-09","v":11.5},{"d":"2016-11","v":11.4},{"d":"2016-12","v":11.3},{"d":"2017-01","v":11.3},{"d":"2017-03","v":10.6},{"d":"2017-05","v":9.6},{"d":"2017-07","v":9.2},{"d":"2017-09","v":9.2},{"d":"2017-11","v":9.1},{"d":"2017-12","v":8.2},{"d":"2018-01","v":8.6},{"d":"2018-03","v":8.2},{"d":"2018-05","v":8.3},{"d":"2018-07","v":8.5},{"d":"2018-09","v":8.3},{"d":"2018-11","v":8.0},{"d":"2018-12","v":8.1},{"d":"2019-01","v":8.4},{"d":"2019-02","v":8.0},{"d":"2019-03","v":8.6}]},
      "mark":{"type":"line","strokeWidth":2.5},
      "encoding":{"y":{"field":"v","type":"quantitative","scale":{"domain":[0,40],"nice":false},
        "axis":{"title":null,"orient":"right","values":[0,5,10,15,20,25,30,35,40],"labelFontSize":11.5,"labelColor":"#222222","labelFont":"Liberation Sans","tickSize":3,"labelPadding":2,"tickColor":"#a6a6a6","domainColor":"#a6a6a6"}},
       "stroke":{"datum":"M2同比（%，右轴）","type":"nominal","scale":{"range":["#bfbfbf"]},
        "legend":{"orient":"none","legendX":110,"legendY":-38.2,"title":null,"symbolType":"stroke","symbolSize":625,"symbolStrokeWidth":3,"labelFontSize":11.5,"labelColor":"#333333","labelOffset":2,"padding":0}}}}
    ],
    "resolve":{"scale":{"y":"independent"}}}
  ],"spacing":0,"resolve":{"scale":{"fill":"independent","stroke":"independent"}}},
  {"width":327,"height":7.0,"data":{"values":[{}]},"mark":"rule","encoding":{}},
  {"width":327,"height":24,"data":{"values":[{"t":"资料来源：Wind，华泰证券研究所"}]},
   "layer":[
    {"mark":{"type":"text","align":"left","baseline":"middle","fontSize":9,"color":"#8c8c8c"},"encoding":{"text":{"field":"t"},"x":{"datum":0,"type":"quantitative","scale":{"domain":[0,1]},"axis":null}}},
    {"mark":{"type":"rule","color":"#f2a9a9","strokeWidth":1.2},"encoding":{"y":{"datum":1,"type":"quantitative","scale":{"domain":[0,1]},"axis":null}}}]}
 ],"spacing":0,"resolve":{"scale":{"fill":"independent","stroke":"independent"}}}
],"spacing":0,"resolve":{"scale":{"fill":"independent","stroke":"independent"}}},
{"width":1,"height":221,"data":{"values":[{}]},"mark":"rule","encoding":{}},
{"hconcat":[
 {"width":50,"height":1,"data":{"values":[{}]},"mark":"rule","encoding":{}},
 {"width":666,"height":36,"data":{"values":[{"t":"谨请参阅尾页重要声明及华泰证券股票和行业评级标准"}]},
  "layer":[
   {"mark":{"type":"text","align":"left","baseline":"middle","fontSize":11,"color":"#333333"},"encoding":{"text":{"field":"t"},"x":{"datum":0,"type":"quantitative","scale":{"domain":[0,1]},"axis":null}}},
   {"mark":{"type":"rule","color":"#8a8a8a","strokeWidth":2},"encoding":{"y":{"datum":1,"type":"quantitative","scale":{"domain":[0,1]},"axis":null}}}]},
 {"width":86,"height":40,"view":{"fill":"#e3171e","stroke":null},"data":{"values":[{}]},"mark":{"type":"text","color":"white","fontSize":16,"dx":-10,"font":"Liberation Sans"},"encoding":{"text":{"value":"5"}}}
],"spacing":0}
]
}
